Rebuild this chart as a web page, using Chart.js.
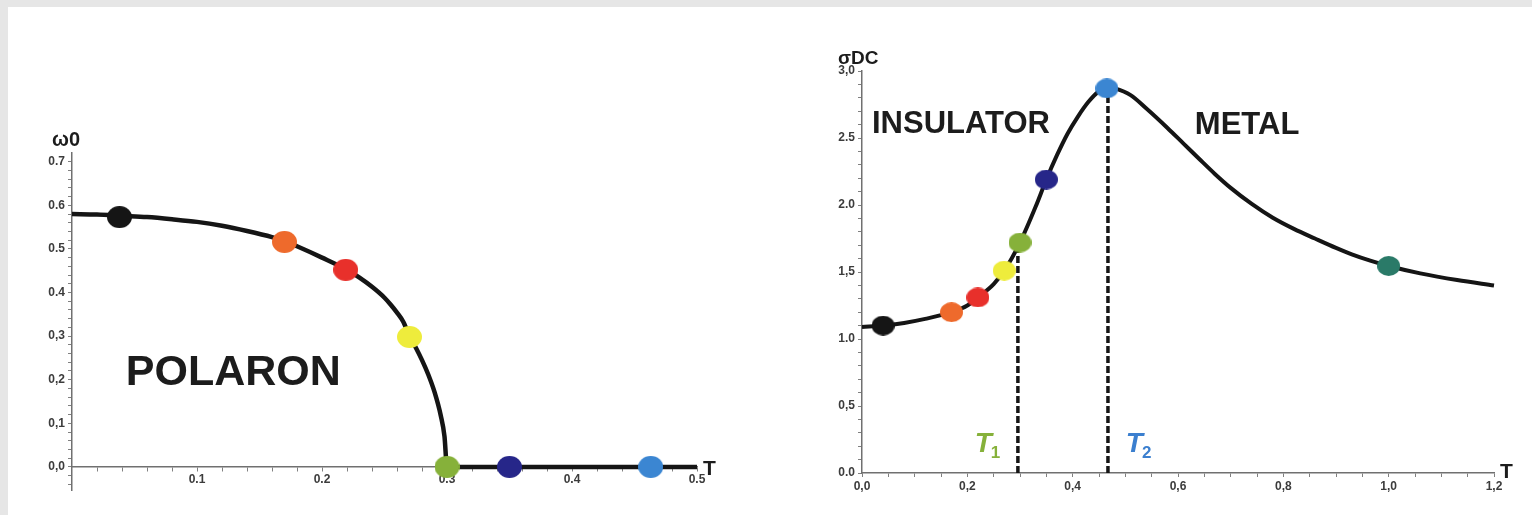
<!DOCTYPE html>
<html>
<head>
<meta charset="utf-8">
<script src="https://cdn.jsdelivr.net/npm/chart.js@4.4.1/dist/chart.umd.min.js"></script>
<style>
    html, body { margin: 0; padding: 0; background: #e6e6e6; }
    #page { position: absolute; left: 8px; top: 7px; right: 0; bottom: 0; background: #fff; }
    #leftWrap { position: absolute; left: 0; top: 0; }
    #rightWrap { position: absolute; left: 760px; top: 0; }
    canvas { display: block; }
</style>
</head>
<body>
<div id="page"></div>
<div id="leftWrap"><canvas id="omegaChart" width="760" height="515"></canvas></div>
<div id="rightWrap"><canvas id="sigmaChart" width="772" height="515"></canvas></div>
<script>
// ---- left panel: omega0 vs T ----
const omegaCurveT = [0, 0.02, 0.04, 0.06, 0.08, 0.10, 0.12, 0.14, 0.16, 0.17, 0.18, 0.20, 0.22, 0.23, 0.24, 0.25, 0.255, 0.26, 0.265, 0.27, 0.275, 0.28, 0.285, 0.29, 0.295, 0.298, 0.30, 0.35, 0.40, 0.45, 0.50];
const omegaCurveY = [0.580, 0.579, 0.576, 0.573, 0.568, 0.562, 0.553, 0.541, 0.527, 0.518, 0.506, 0.480, 0.452, 0.434, 0.413, 0.388, 0.372, 0.354, 0.333, 0.300, 0.274, 0.245, 0.212, 0.172, 0.118, 0.07, 0, 0, 0, 0, 0];
const omegaDotT = [0.038, 0.17, 0.219, 0.27, 0.30, 0.35, 0.463];
const omegaDotY = [0.573, 0.516, 0.452, 0.298, 0, 0, 0];
const omegaDotColors = ['#151515', '#ee6a2c', '#e8302b', '#eeec3c', '#86b13a', '#262689', '#3b86d2'];
const omegaXTicks = [0.1, 0.2, 0.3, 0.4, 0.5];
const omegaXLabels = ['0.1', '0.2', '0.3', '0.4', '0.5'];
const omegaYTicks = [0, 0.1, 0.2, 0.3, 0.4, 0.5, 0.6, 0.7];
const omegaYLabels = ['0,0', '0,1', '0,2', '0,3', '0.4', '0.5', '0.6', '0.7'];

// ---- right panel: sigma DC vs T ----
const sigmaCurveT = [0, 0.04, 0.08, 0.12, 0.17, 0.20, 0.22, 0.25, 0.27, 0.30, 0.33, 0.35, 0.37, 0.39, 0.41, 0.43, 0.45, 0.465, 0.48, 0.51, 0.54, 0.58, 0.61, 0.64, 0.67, 0.70, 0.74, 0.78, 0.82, 0.86, 0.90, 0.93, 0.965, 1.00, 1.06, 1.13, 1.20];
const sigmaCurveY = [1.09, 1.10, 1.12, 1.15, 1.20, 1.25, 1.31, 1.41, 1.51, 1.72, 1.99, 2.19, 2.37, 2.53, 2.66, 2.77, 2.85, 2.88, 2.87, 2.82, 2.72, 2.575, 2.46, 2.345, 2.232, 2.128, 2.008, 1.905, 1.822, 1.75, 1.68, 1.632, 1.585, 1.545, 1.49, 1.44, 1.40];
const sigmaDotT = [0.04, 0.17, 0.22, 0.27, 0.30, 0.35, 0.465, 1.0];
const sigmaDotY = [1.10, 1.20, 1.31, 1.51, 1.72, 2.19, 2.87, 1.545];
const sigmaDotColors = ['#151515', '#ee6a2c', '#e8302b', '#eeec3c', '#86b13a', '#262689', '#3b86d2', '#2a7a68'];
const t1Line = [[0.296, 0], [0.296, 1.68]];
const t2Line = [[0.467, 0], [0.467, 2.86]];
const sigmaXTicks = [0, 0.2, 0.4, 0.6, 0.8, 1.0, 1.2];
const sigmaXLabels = ['0,0', '0,2', '0,4', '0,6', '0,8', '1,0', '1,2'];
const sigmaYTicks = [0, 0.5, 1.0, 1.5, 2.0, 2.5, 3.0];
const sigmaYLabels = ['0.0', '0,5', '1.0', '1,5', '2.0', '2.5', '3,0'];

const toPoints = (xs, ys) => xs.map((x, i) => ({ x: x, y: ys[i] }));
const range = (from, to, step) => {
    const out = [];
    for (let v = from; v <= to + 1e-9; v += step) out.push(Math.round(v * 1000) / 1000);
    return out;
};
const labelFor = (ticks, labels) => v => {
    const i = ticks.findIndex(t => Math.abs(t - v) < 1e-6);
    return i >= 0 ? labels[i] : '';
};

// slightly flattened dot marker, like the original figure
function ellipseMarker(color, w, h) {
    const c = document.createElement('canvas');
    c.width = w; c.height = h;
    const g = c.getContext('2d');
    g.fillStyle = color;
    g.beginPath();
    g.ellipse(w / 2, h / 2, w / 2, h / 2, 0, 0, Math.PI * 2);
    g.fill();
    return c;
}

const tickFont = { family: "'Liberation Sans', Arial, sans-serif", size: 12, weight: 'bold' };
const axisGrid = { display: true, drawOnChartArea: false, drawTicks: true, tickLength: 4, color: '#808080', lineWidth: 1 };
const axisBorder = { display: true, color: '#707070', width: 1.5 };

// text labels drawn in data coordinates
function textPlugin(items) {
    return {
        id: 'texts',
        afterDatasetsDraw(chart) {
            const ctx = chart.ctx;
            const xs = chart.scales.x, ys = chart.scales.y;
            ctx.save();
            ctx.textBaseline = 'alphabetic';
            ctx.textAlign = 'left';
            items.forEach(it => {
                ctx.font = it.font;
                ctx.fillStyle = it.color || '#1c1c1c';
                let px = it.px !== undefined ? it.px(chart) : xs.getPixelForValue(it.x);
                let py = it.py !== undefined ? it.py(chart) : ys.getPixelForValue(it.y);
                ctx.fillText(it.text, px, py);
                if (it.sub) {
                    const w = ctx.measureText(it.text).width;
                    ctx.font = it.subFont;
                    ctx.fillText(it.sub, px + w - 1, py + 6);
                }
            });
            ctx.restore();
        }
    };
}

new Chart(document.getElementById('omegaChart'), {
    type: 'scatter',
    data: {
        datasets: [
            {
                label: 'dots',
                data: toPoints(omegaDotT, omegaDotY),
                pointStyle: omegaDotColors.map(c => ellipseMarker(c, 25, 22)),
                showLine: false,
                clip: false
            },
            {
                label: 'omega0',
                data: toPoints(omegaCurveT, omegaCurveY),
                showLine: true,
                borderColor: '#151515',
                borderWidth: 4.5,
                pointRadius: 0,
                cubicInterpolationMode: 'monotone',
                clip: false
            }
        ]
    },
    options: {
        responsive: false,
        animation: false,
        events: [],
        layout: { padding: { left: 28, right: 63, top: 153, bottom: 25 } },
        plugins: { legend: { display: false }, tooltip: { enabled: false } },
        scales: {
            x: {
                type: 'linear',
                position: { y: 0 },
                min: 0,
                max: 0.5,
                afterBuildTicks: s => { s.ticks = range(0.02, 0.5, 0.02).map(v => ({ value: v })); },
                ticks: { autoSkip: false, maxRotation: 0, padding: 2, color: '#3c3c3c', font: tickFont,
                         callback: labelFor(omegaXTicks, omegaXLabels) },
                grid: axisGrid,
                border: axisBorder
            },
            y: {
                type: 'linear',
                min: -0.053,
                max: 0.72,
                afterFit: s => { s.width = 44; },
                afterBuildTicks: s => { s.ticks = range(-0.04, 0.7, 0.02).map(v => ({ value: v })); },
                ticks: { autoSkip: false, padding: 3, color: '#3c3c3c', font: tickFont,
                         callback: labelFor(omegaYTicks, omegaYLabels) },
                grid: axisGrid,
                border: axisBorder
            }
        }
    },
    plugins: [textPlugin([
        { text: 'ω0', font: "bold 20px 'Liberation Sans', Arial, sans-serif",
          px: c => c.scales.x.getPixelForValue(0) - 20, py: c => c.chartArea.top - 7 },
        { text: 'T', font: "bold 21px 'Liberation Sans', Arial, sans-serif",
          px: c => c.scales.x.right + 6, py: c => c.scales.y.getPixelForValue(0) + 8 },
        { text: 'POLARON', x: 0.043, y: 0.188, font: "bold 43px 'Liberation Sans', Arial, sans-serif" }
    ])]
});

new Chart(document.getElementById('sigmaChart'), {
    type: 'scatter',
    data: {
        datasets: [
            {
                label: 'dots',
                data: toPoints(sigmaDotT, sigmaDotY),
                pointStyle: sigmaDotColors.map(c => ellipseMarker(c, 23, 20)),
                showLine: false,
                clip: false
            },
            {
                label: 'sigmaDC',
                data: toPoints(sigmaCurveT, sigmaCurveY),
                showLine: true,
                borderColor: '#151515',
                borderWidth: 4,
                pointRadius: 0,
                cubicInterpolationMode: 'monotone',
                clip: false
            },
            {
                label: 'T1',
                data: t1Line.map(p => ({ x: p[0], y: p[1] })),
                showLine: true,
                borderColor: '#151515',
                borderWidth: 3.5,
                borderDash: [7, 3],
                pointRadius: 0
            },
            {
                label: 'T2',
                data: t2Line.map(p => ({ x: p[0], y: p[1] })),
                showLine: true,
                borderColor: '#151515',
                borderWidth: 3.5,
                borderDash: [7, 3],
                pointRadius: 0
            }
        ]
    },
    options: {
        responsive: false,
        animation: false,
        events: [],
        layout: { padding: { left: 58, right: 38, top: 71, bottom: 18 } },
        plugins: { legend: { display: false }, tooltip: { enabled: false } },
        scales: {
            x: {
                type: 'linear',
                min: 0,
                max: 1.2,
                afterFit: s => { s.height = 24; },
                afterBuildTicks: s => { s.ticks = range(0, 1.2, 0.05).map(v => ({ value: v })); },
                ticks: { autoSkip: false, maxRotation: 0, padding: 2, color: '#3c3c3c', font: tickFont,
                         callback: labelFor(sigmaXTicks, sigmaXLabels) },
                grid: axisGrid,
                border: axisBorder
            },
            y: {
                type: 'linear',
                min: 0,
                max: 3.0,
                afterFit: s => { s.width = 44; },
                afterBuildTicks: s => { s.ticks = range(0, 3.0, 0.1).map(v => ({ value: v })); },
                ticks: { autoSkip: false, padding: 3, color: '#3c3c3c', font: tickFont,
                         callback: labelFor(sigmaYTicks, sigmaYLabels) },
                grid: axisGrid,
                border: axisBorder
            }
        }
    },
    plugins: [textPlugin([
        { text: 'σDC', font: "bold 19px 'Liberation Sans', Arial, sans-serif",
          px: c => c.scales.x.getPixelForValue(0) - 24, py: c => c.chartArea.top - 7 },
        { text: 'T', font: "bold 21px 'Liberation Sans', Arial, sans-serif",
          px: c => c.scales.x.right + 6, py: c => c.chartArea.bottom + 5 },
        { text: 'INSULATOR', x: 0.019, y: 2.54, font: "bold 31px 'Liberation Sans', Arial, sans-serif" },
        { text: 'METAL', x: 0.632, y: 2.53, font: "bold 31px 'Liberation Sans', Arial, sans-serif" },
        { text: 'T', sub: '1', x: 0.214, y: 0.157, color: '#86b13a',
          font: "italic bold 28px 'Liberation Sans', Arial, sans-serif", subFont: "bold 17px 'Liberation Sans', Arial, sans-serif" },
        { text: 'T', sub: '2', x: 0.501, y: 0.157, color: '#3b7fcf',
          font: "italic bold 28px 'Liberation Sans', Arial, sans-serif", subFont: "bold 17px 'Liberation Sans', Arial, sans-serif" }
    ])]
});
</script>
</body>
</html>
